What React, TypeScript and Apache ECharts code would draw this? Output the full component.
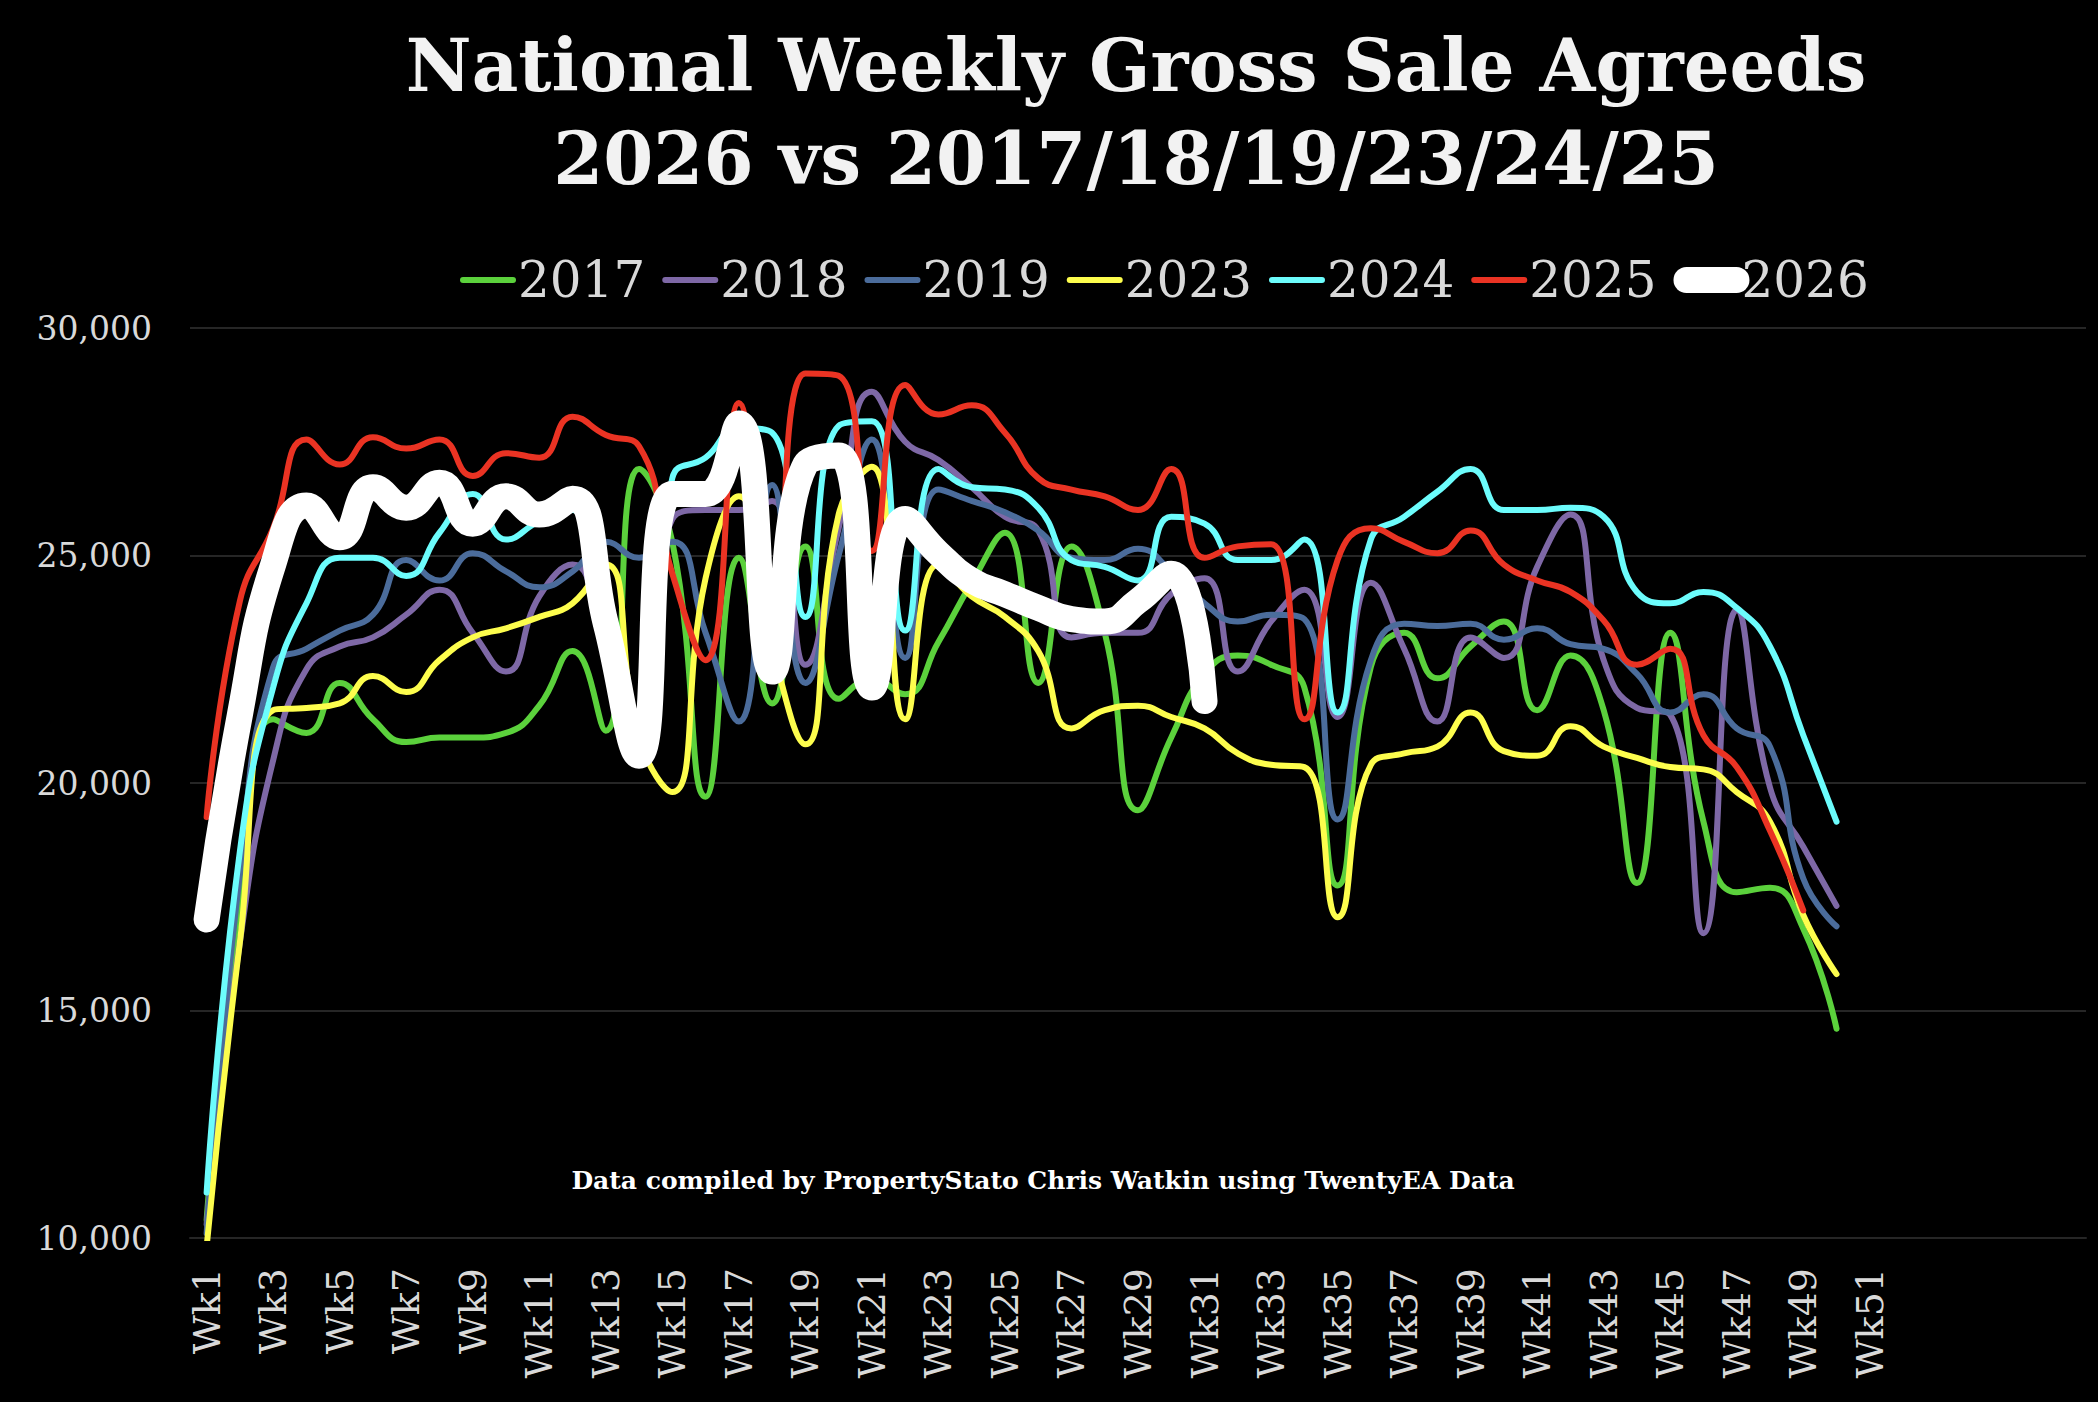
import { useEffect, useRef } from "react";
import * as echarts from "echarts";

// week categories (blank slots keep the plot running to the right edge, as in the source)
const weeks = [
  "Wk1", "Wk2", "Wk3", "Wk4", "Wk5", "Wk6", "Wk7", "Wk8", "Wk9", "Wk10",
  "Wk11", "Wk12", "Wk13", "Wk14", "Wk15", "Wk16", "Wk17", "Wk18", "Wk19", "Wk20",
  "Wk21", "Wk22", "Wk23", "Wk24", "Wk25", "Wk26", "Wk27", "Wk28", "Wk29", "Wk30",
  "Wk31", "Wk32", "Wk33", "Wk34", "Wk35", "Wk36", "Wk37", "Wk38", "Wk39", "Wk40",
  "Wk41", "Wk42", "Wk43", "Wk44", "Wk45", "Wk46", "Wk47", "Wk48", "Wk49", "Wk50",
  "Wk51", "Wk52", "", "", "", "", "",
];

const years = ["2017", "2018", "2019", "2023", "2024", "2025", "2026"];

const sales2017 = [
  10400, 17500, 21400, 21100, 22200, 21400, 20900, 21000, 21000, 21100,
  21700, 22900, 21150, 26900, 25300, 19700, 24950, 21750, 25200, 21850,
  22300, 21950, 23100, 24400, 25500, 22200, 25200, 23300, 19400, 21000,
  22400, 22800, 22600, 22100, 17750, 22550, 23300, 22300, 23000, 23550,
  21600, 22800, 21600, 17800, 23300, 19150, 17600, 17700, 16800, 14600,
];
const sales2018 = [
  10300, 16500, 20500, 22500, 23000, 23200, 23700, 24250, 23300, 22450,
  24100, 24800, 22900, 21100, 25800, 26000, 26000, 26200, 22600, 25600,
  28600, 27500, 27100, 26500, 25850, 25550, 23200, 23300, 23300, 24150,
  24500, 22450, 23550, 24250, 21450, 24400, 22950, 21350, 23200, 22750,
  24750, 25900, 22700, 21650, 21500, 16700, 23800, 19900, 18600, 17300,
];
const sales2019 = [
  10100, 18000, 22550, 22950, 23350, 23700, 24900, 24450, 25050, 24650,
  24300, 24650, 25300, 24950, 25300, 23300, 21350, 26550, 22200, 25000,
  27550, 22750, 26450, 26200, 25950, 25550, 24950, 24900, 25150, 24650,
  23950, 23550, 23700, 23600, 19200, 22700, 23500, 23450, 23500, 23150,
  23400, 23050, 22950, 22400, 21550, 21950, 21200, 20800, 17900, 16850,
];
const sales2023 = [
  9800, 16500, 21600, 21650, 21750, 22350, 22000, 22700, 23200, 23400,
  23650, 23950, 24800, 21000, 19800, 24500, 26300, 23000, 20850, 25900,
  26950, 21400, 24800, 24100, 23650, 22900, 21200, 21600, 21700, 21450,
  21200, 20650, 20400, 20350, 17050, 20400, 20650, 20800, 21550, 20700,
  20600, 21250, 20800, 20550, 20350, 20300, 19800, 19150, 17100, 15800,
];
const sales2024 = [
  11000, 18500, 22100, 23950, 24950, 24950, 24550, 25500, 26350, 25350,
  25750, 26000, 23400, 20900, 26700, 27150, 27800, 27700, 23650, 27850,
  27950, 23350, 26900, 26500, 26450, 26050, 24900, 24750, 24450, 25850,
  25700, 24900, 24900, 25350, 21550, 25350, 25850, 26400, 26900, 26000,
  26000, 26050, 25850, 24200, 23950, 24200, 23850, 23000, 21050, 19150,
];
const sales2025 = [
  19250, 24000, 25600, 27550, 27000, 27600, 27350, 27550, 26750, 27250,
  27150, 28050, 27650, 27400, 24600, 22700, 28350, 22500, 29000, 28950,
  25100, 28750, 28100, 28300, 27700, 26700, 26450, 26300, 26000, 26900,
  24950, 25200, 25250, 21400, 24900, 25600, 25300, 25050, 25550, 24800,
  24450, 24200, 23570, 22600, 22950, 21050, 20350, 18950, 17200,
];
const sales2026 = [
  17000, 21500, 24800, 26100, 25400, 26500, 26050, 26600, 25700, 26300,
  25900, 26250, 23500, 20600, 26350, 26350, 27900, 22450, 27000, 27200,
  22100, 25800, 25050, 24450, 24150, 23850, 23600, 23550, 24000, 24600,
  21800,
];

const seriesData = [sales2017, sales2018, sales2019, sales2023, sales2024, sales2025, sales2026];
const colors = ["#5bd13c", "#7e68a6", "#4b6c9b", "#fdfd4d", "#6cfcfc", "#ea3323", "#ffffff"];
const yTicks = [10000, 15000, 20000, 25000, 30000];

const FONT = "'DejaVu Serif', 'Liberation Serif', serif";

export default function App() {
  const chartRef = useRef<HTMLDivElement>(null);

  useEffect(() => {
    if (!chartRef.current) return;
    const chart = echarts.init(chartRef.current, null, { renderer: "svg" });

    const widthOf = (y: string) => (y === "2026" ? 26 : 6);

    const option: echarts.EChartsOption = {
      animation: false,
      backgroundColor: "#000000",
      textStyle: { fontFamily: FONT },
      title: {
        text: "National Weekly Gross Sale Agreeds\n2026 vs 2017/18/19/23/24/25",
        left: 1131,
        top: 14,
        textAlign: "center",
        textStyle: {
          color: "#f2f2f2",
          fontFamily: FONT,
          fontWeight: "bold",
          fontSize: 72,
          lineHeight: 93,
        },
      },
      legend: {
        data: years.map((y) => ({
          name: y,
          lineStyle: { width: widthOf(y), cap: "round" },
        })),
        left: 455,
        top: 250,
        itemWidth: 50,
        itemHeight: 26,
        itemGap: 17,
        // hide the marker circle, keep only the line sample
        itemStyle: { opacity: 0 },
        textStyle: { color: "#d9d9d9", fontSize: 50, fontFamily: FONT },
      },
      grid: { left: 190, right: 12, top: 328, bottom: 164 },
      xAxis: {
        type: "category",
        data: weeks,
        boundaryGap: true,
        axisLine: { lineStyle: { color: "#262626", width: 2 } },
        axisTick: { show: false },
        axisLabel: {
          interval: 1,
          rotate: 90,
          margin: 30,
          color: "#d9d9d9",
          fontSize: 38,
          fontFamily: FONT,
        },
      },
      yAxis: {
        type: "value",
        min: yTicks[0],
        max: yTicks[yTicks.length - 1],
        interval: 5000,
        axisLine: { show: false },
        axisTick: { show: false },
        splitLine: { lineStyle: { color: "#262626", width: 2 } },
        axisLabel: {
          margin: 38,
          color: "#d9d9d9",
          fontSize: 33,
          fontFamily: FONT,
          formatter: (v: number) => v.toLocaleString("en-US"),
        },
      },
      series: years.map((y, i) => ({
        name: y,
        type: "line",
        data: seriesData[i],
        smooth: 0.5,
        symbol: "none",
        color: colors[i],
        emphasis: { disabled: true },
        lineStyle: {
          color: colors[i],
          width: widthOf(y),
          cap: "round",
          join: "round",
        },
      })),
      graphic: [
        {
          type: "text",
          x: 1043,
          y: 1180,
          style: {
            text: "Data compiled by PropertyStato Chris Watkin using TwentyEA Data",
            fill: "#ffffff",
            font: `bold 25px ${FONT}`,
            textAlign: "center",
            textVerticalAlign: "middle",
          },
        },
      ],
    };

    chart.setOption(option);
    return () => chart.dispose();
  }, []);

  return (
    <div
      ref={chartRef}
      style={{ position: "fixed", left: 0, top: 0, width: "100vw", height: "100vh", background: "#000" }}
    />
  );
}
